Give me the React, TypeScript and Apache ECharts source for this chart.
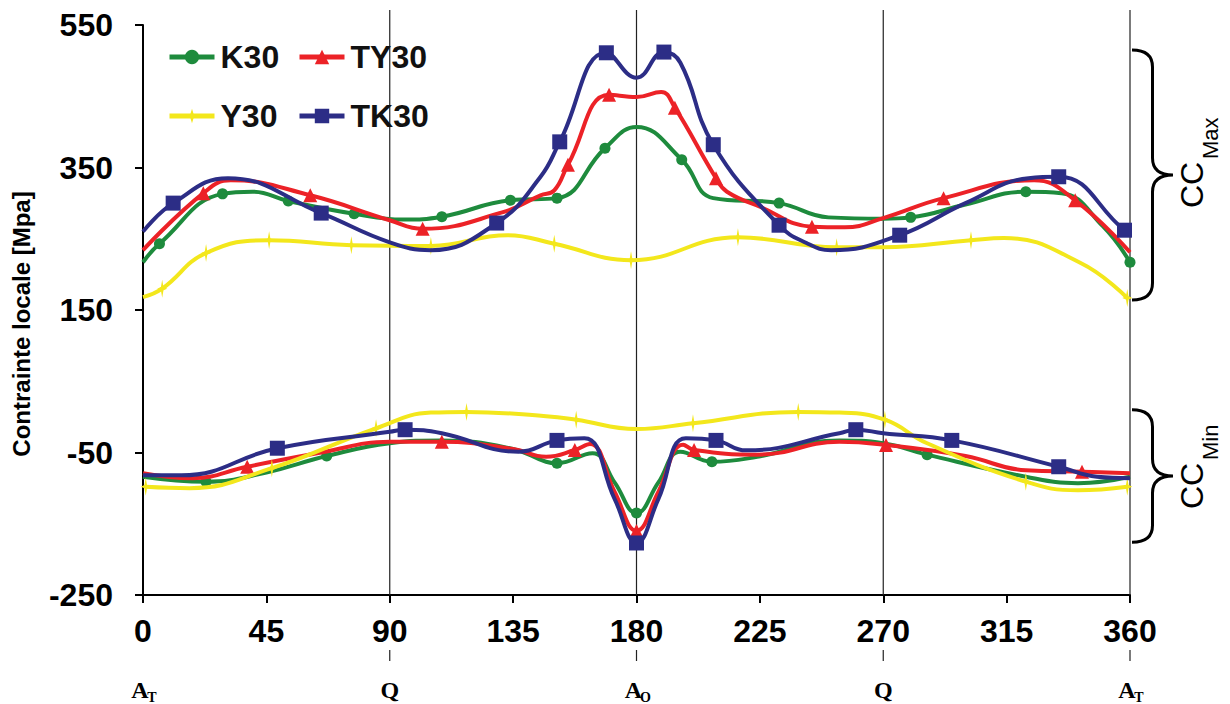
import React, { useEffect, useRef } from "react";
import * as echarts from "echarts";

type Pt = [number, number];

const X_MIN = 0;
const X_MAX = 360;
const X_STEP = 45;
const Y_MIN = -250;
const Y_MAX = 550;
const Y_STEP = 200;

const Y_TITLE = "Contrainte locale [Mpa]";

// reference vertical lines and position labels under the axis
const REF_LINES = [90, 180, 270, 360];
const POS_X = [0, 90, 180, 270, 360];
const POS_MAIN = ["A", "Q", "A", "Q", "A"];
const POS_SUB = ["T", "", "O", "", "T"];

// brace ranges (in MPa) for the CC annotations
const BRACE_MAX: Pt = [515, 164];
const BRACE_MIN: Pt = [10, -176];

// ---------- K30 ----------
const K30_MAX: Pt[] = [
  [0, 217], [6, 243], [29, 313], [40, 316], [53, 303], [77, 285], [95, 277],
  [109, 281], [134, 304], [151, 307], [168.5, 377], [180, 407], [196.5, 361], [208, 307],
  [232, 300], [250, 280], [270, 278], [280, 280], [300, 298], [322, 316], [335, 314],
  [350, 268], [360, 217],
];
const K30_MAX_MARKS = [6, 29, 53, 77, 109, 134, 151, 168.5, 196.5, 232, 280, 322, 360];
const K30_MIN: Pt[] = [
  [0, -84], [23, -91], [45, -78], [67, -55], [90, -37], [109, -33], [135, -45], [147, -63],
  [151, -65], [164, -51], [172, -92], [180, -135], [188, -92], [196, -49], [207.5, -63],
  [224, -56], [254, -33], [270, -37], [286, -53], [322, -84], [341, -93], [360, -84],
];
const K30_MIN_MARKS = [23, 67, 151, 180, 207.5, 286];

// ---------- TY30 ----------
const TY30_MAX: Pt[] = [
  [0, 234], [22, 314], [32, 332], [61, 311], [90, 276], [102, 264], [131, 287], [145, 311],
  [150, 318], [155, 354], [170, 452], [180, 449], [189, 456], [194, 434], [209, 335],
  [213, 316], [225, 295], [244, 267], [256, 266], [270, 279], [292, 307], [325, 332],
  [340, 304], [360, 231],
];
const TY30_MAX_MARKS = [22, 61, 102, 155, 170, 194, 209, 244, 292, 340];
const TY30_MIN: Pt[] = [
  [0, -79], [18, -86], [38, -70], [65, -50], [90, -35], [109, -35], [135, -45], [147, -56],
  [157.5, -46.5], [163, -38], [172, -105], [180, -160], [188, -105], [197, -39], [201, -46.5],
  [224, -53], [254, -35], [271, -39.5], [300, -55], [322, -75], [342.5, -77], [360, -79],
];
const TY30_MIN_MARKS = [38, 109, 157.5, 180, 201, 271, 342.5];

// ---------- Y30 ----------
const Y30_MAX: Pt[] = [
  [0, 168], [7, 180], [23, 230], [46, 248], [76, 241], [105, 240], [133, 255],
  [150, 243], [178, 220], [217, 252], [253, 238], [270, 238], [302, 248], [314, 251],
  [342, 216], [359, 167],
];
const Y30_MAX_MARKS = [7, 23, 46, 76, 105, 150, 178, 217, 253, 302, 359];
const Y30_MIN: Pt[] = [
  [1, -98], [17, -100], [47, -72], [85, -16], [105, 6], [118, 7], [147, 1],
  [158, -4], [180, -17], [200.6, -9], [239, 7], [254, 6], [270.6, -4], [286, -37],
  [322, -91], [341, -103], [359, -98],
];
const Y30_MIN_MARKS = [1, 47, 85, 118, 158, 200.6, 239, 270.6, 322, 359];

// ---------- TK30 ----------
const TK30_MAX: Pt[] = [
  [0, 260], [11, 300], [31, 335], [65, 286], [90, 245], [105, 234], [129, 272], [145, 337],
  [152, 386], [169, 511], [180, 476], [190, 512], [196, 497], [208, 382], [232, 269],
  [242, 244], [251, 234], [276, 255], [300, 300], [323, 335], [334, 337], [358, 262],
  [360, 258],
];
const TK30_MAX_MARKS = [11, 65, 129, 152, 169, 190, 208, 232, 276, 334, 358];
const TK30_MIN: Pt[] = [
  [0, -82], [14, -82], [49, -44], [90, -21], [95.6, -18], [109, -23], [137, -49],
  [151, -33], [161, -30], [172, -115], [180, -177], [188, -115], [198, -30], [209, -33],
  [220, -47], [254, -23], [260, -18], [270, -23], [295, -33], [334, -70], [348, -84],
  [360, -86],
];
const TK30_MIN_MARKS = [49, 95.6, 151, 180, 209, 260, 295, 334];

const FONT = "Liberation Sans, Arial, Helvetica, sans-serif";
const SERIF = "Liberation Serif, Times New Roman, serif";

const STAR = "path://M0,-10 L1.8,-1.8 L7,0 L1.8,1.8 L0,10 L-1.8,1.8 L-7,0 L-1.8,-1.8 Z";

const STYLES: Record<string, { color: string; symbol: string; size: number | number[] }> = {
  K30: { color: "#1e8b3d", symbol: "circle", size: 11 },
  TY30: { color: "#ec2227", symbol: "triangle", size: 14 },
  Y30: { color: "#f3e71c", symbol: STAR, size: [10, 18] },
  TK30: { color: "#2c2d86", symbol: "rect", size: 15 },
};

function toData(points: Pt[], marks: number[]) {
  return points.map((p) =>
    marks.includes(p[0]) ? { value: p } : { value: p, symbol: "none" }
  );
}

function makeSeries(name: string, points: Pt[], marks: number[], z: number) {
  const s = STYLES[name];
  return {
    type: "line",
    name,
    data: toData(points, marks),
    smooth: 0.45,
    showAllSymbol: true,
    symbol: s.symbol,
    symbolSize: s.size,
    lineStyle: { color: s.color, width: 4 },
    itemStyle: { color: s.color },
    emphasis: { disabled: true },
    z,
  };
}

function bracePath(w: number, h: number, r: number) {
  const m = w / 2;
  const c = h / 2;
  return (
    `M0,0 Q${m},0 ${m},${r} L${m},${c - r} Q${m},${c} ${w},${c} ` +
    `Q${m},${c} ${m},${c + r} L${m},${h - r} Q${m},${h} 0,${h}`
  );
}

// rich-text style for graphic text elements
function txt(text: string, size: number, weight: string, family: string, align: string) {
  return {
    text: `{t|${text}}`,
    rich: { t: { fontSize: size, fontWeight: weight, fontFamily: family, fill: "#000", lineHeight: size } },
    fill: "#000",
    align,
    verticalAlign: "middle",
  };
}

export default function App() {
  const ref = useRef<HTMLDivElement>(null);

  useEffect(() => {
    if (!ref.current) return;
    const chart = echarts.init(ref.current, undefined, { renderer: "svg" });

    const legendBase = {
      orient: "horizontal",
      itemWidth: 45,
      itemHeight: 18,
      padding: 0,
      itemGap: 0,
      selectedMode: false,
      lineStyle: { width: 5 },
      textStyle: { fontSize: 32, fontWeight: "bold", color: "#111", fontFamily: FONT, padding: [0, 0, 0, 1] },
    };

    chart.setOption({
      animation: false,
      backgroundColor: "#ffffff",
      grid: { left: 143, right: 100, top: 25, bottom: 109 },
      legend: [
        { ...legendBase, data: ["K30"], left: 167, top: 41 },
        { ...legendBase, data: ["TY30"], left: 297, top: 41 },
        { ...legendBase, data: ["Y30"], left: 167, top: 100 },
        { ...legendBase, data: ["TK30"], left: 297, top: 100 },
      ],
      xAxis: {
        type: "value",
        min: X_MIN,
        max: X_MAX,
        interval: X_STEP,
        axisLine: { onZero: false, lineStyle: { color: "#000", width: 2 } },
        axisTick: { show: true, length: 8, lineStyle: { color: "#000", width: 2 } },
        axisLabel: { fontSize: 32, fontWeight: "bold", color: "#000", fontFamily: FONT, margin: 20 },
        splitLine: { show: false },
      },
      yAxis: {
        type: "value",
        min: Y_MIN,
        max: Y_MAX,
        interval: Y_STEP,
        axisLine: { show: true, onZero: false, lineStyle: { color: "#000", width: 2 } },
        axisTick: { show: true, length: 8, lineStyle: { color: "#000", width: 2 } },
        axisLabel: { fontSize: 32, fontWeight: "bold", color: "#000", fontFamily: FONT, margin: 30 },
        splitLine: { show: false },
      },
      series: [
        makeSeries("K30", K30_MAX, K30_MAX_MARKS, 3),
        makeSeries("K30", K30_MIN, K30_MIN_MARKS, 3),
        makeSeries("TY30", TY30_MAX, TY30_MAX_MARKS, 4),
        makeSeries("TY30", TY30_MIN, TY30_MIN_MARKS, 4),
        makeSeries("Y30", Y30_MAX, Y30_MAX_MARKS, 5),
        makeSeries("Y30", Y30_MIN, Y30_MIN_MARKS, 5),
        makeSeries("TK30", TK30_MAX, TK30_MAX_MARKS, 6),
        makeSeries("TK30", TK30_MIN, TK30_MIN_MARKS, 6),
      ],
    });

    const px = (x: number, y: number) =>
      chart.convertToPixel({ xAxisIndex: 0, yAxisIndex: 0 }, [x, y]) as number[];
    const yBottom = px(0, Y_MIN)[1];
    const yTop = px(0, Y_MAX)[1];
    const xLeft = px(X_MIN, 0)[0];
    const lineStyle = { stroke: "#222", lineWidth: 1.2 };
    const els: any[] = [];

    // y axis title
    els.push({
      type: "text",
      x: xLeft - 122,
      y: (yTop + yBottom) / 2 + 14,
      rotation: Math.PI / 2,
      silent: true,
      style: txt(Y_TITLE, 24, "bold", FONT, "center"),
    });

    REF_LINES.forEach((x) => {
      const lx = px(x, 0)[0];
      els.push({ type: "line", z: 1, silent: true, shape: { x1: lx, y1: yTop - 15, x2: lx, y2: yBottom }, style: lineStyle });
      els.push({ type: "line", z: 1, silent: true, shape: { x1: lx, y1: yBottom + 55, x2: lx, y2: yBottom + 66 }, style: lineStyle });
    });

    POS_X.forEach((x, i) => {
      const lx = px(x, 0)[0];
      const hasSub = POS_SUB[i] !== "";
      els.push({
        type: "text",
        x: hasSub ? lx - 3 : lx,
        y: yBottom + 95,
        silent: true,
        style: txt(POS_MAIN[i], 24, "bold", SERIF, "center"),
      });
      if (hasSub) {
        els.push({
          type: "text",
          x: lx + 9,
          y: yBottom + 102,
          silent: true,
          style: txt(POS_SUB[i], 14, "bold", SERIF, "center"),
        });
      }
    });

    const braces: [string, Pt, string][] = [
      ["braceMax", BRACE_MAX, "Max"],
      ["braceMin", BRACE_MIN, "Min"],
    ];
    braces.forEach(([shapeName, range, sub]) => {
      const [xr, yt] = px(X_MAX, range[0]);
      const yb = px(X_MAX, range[1])[1];
      const w = 41;
      const h = yb - yt;
      echarts.graphic.registerShape(shapeName, echarts.graphic.extendPath(bracePath(w, h, 17), {}));
      const bx = xr + 2;
      els.push({ type: shapeName, x: bx, y: yt, silent: true, style: { stroke: "#000", lineWidth: 3, fill: "none" } });
      const ccX = bx + w + 19;
      const ccY = yt + h / 2 + 10;
      els.push({
        type: "text",
        x: ccX,
        y: ccY,
        rotation: Math.PI / 2,
        silent: true,
        style: txt("CC", 32, "normal", FONT, "center"),
      });
      els.push({
        type: "text",
        x: ccX + 18,
        y: ccY - 26,
        rotation: Math.PI / 2,
        silent: true,
        style: txt(sub, 22, "normal", FONT, "left"),
      });
    });

    chart.setOption({ graphic: els });

    return () => chart.dispose();
  }, []);

  return (
    <div
      ref={ref}
      style={{ position: "absolute", left: 0, top: 0, width: 1230, height: 704, background: "#fff" }}
    />
  );
}
